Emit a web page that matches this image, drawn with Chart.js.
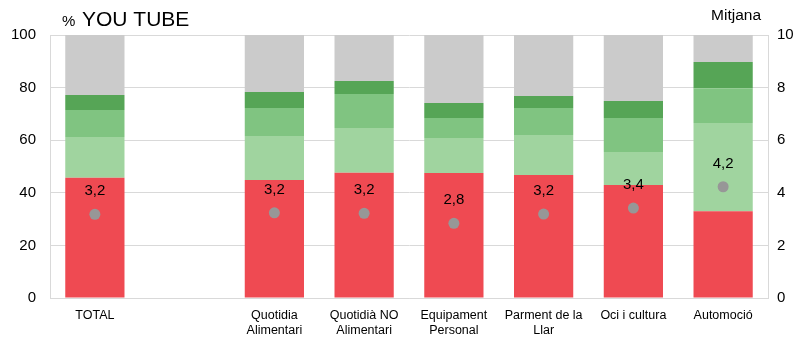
<!DOCTYPE html>
<html>
<head>
<meta charset="utf-8">
<script src="https://cdn.jsdelivr.net/npm/chart.js@4/dist/chart.umd.min.js"></script>
<style>
  html, body { margin: 0; padding: 0; background: #fff; }
  #wrap { width: 802px; height: 338px; position: relative; }
</style>
</head>
<body>
<div id="wrap"><canvas id="chart" width="802" height="338"></canvas></div>
<script>
// categories (second slot is an empty gap, as in the original)
const categories = [
    ['TOTAL'], [''], ['Quotidia', 'Alimentari'], ['Quotidià NO', 'Alimentari'],
    ['Equipament', 'Personal'], ['Parment de la', 'Llar'], ['Oci i cultura'], ['Automoció']
];

// % stacked segments, bottom to top
const redValues = [45.7, null, 44.9, 47.6, 47.5, 46.8, 43.0, 33.0];
const lightGreenValues = [15.5, null, 16.7, 17.0, 13.3, 15.2, 12.5, 33.5];
const midGreenValues = [10.3, null, 10.6, 13.0, 7.6, 10.2, 12.9, 13.3];
const darkGreenValues = [5.7, null, 6.1, 4.9, 5.7, 4.6, 6.5, 9.9];
const greyValues = [22.8, null, 21.7, 17.5, 25.9, 23.2, 25.1, 10.3];

// mean (right axis, 0-10)
const meanValues = [3.18, null, 3.24, 3.22, 2.84, 3.19, 3.42, 4.23];

const leftTicks = [0, 20, 40, 60, 80, 100];
const rightTicks = [0, 2, 4, 6, 8, 10];

const FONT = "'Liberation Sans', Arial, sans-serif";
const gridColor = '#d9d9d9';

Chart.defaults.font.family = FONT;
Chart.defaults.color = '#000';

// title texts and mean labels
const textPlugin = {
    id: 'texts',
    afterDatasetsDraw(chart) {
        const ctx = chart.ctx;
        ctx.save();
        ctx.fillStyle = '#000';
        ctx.textBaseline = 'alphabetic';
        ctx.textAlign = 'left';
        ctx.font = '15px ' + FONT;
        ctx.fillText('%', 62, 26);
        ctx.font = '21px ' + FONT;
        ctx.fillText('YOU TUBE', 82, 26);
        ctx.textAlign = 'right';
        ctx.font = '15.5px ' + FONT;
        ctx.fillText('Mitjana', 761, 20);

        const meta = chart.getDatasetMeta(5);
        ctx.textAlign = 'center';
        ctx.font = '15px ' + FONT;
        meta.data.forEach((pt, i) => {
            const v = meanValues[i];
            if (v == null) return;
            ctx.fillText(v.toFixed(1).replace('.', ','), pt.x, pt.y - 19);
        });
        ctx.restore();
    }
};

const barDefaults = { borderWidth: 0, yAxisID: 'y', stack: 's', order: 2 };

new Chart(document.getElementById('chart').getContext('2d'), {
    type: 'bar',
    data: {
        labels: categories,
        datasets: [
            { ...barDefaults, label: 'red', data: redValues, backgroundColor: '#ef4a52' },
            { ...barDefaults, label: 'light', data: lightGreenValues, backgroundColor: '#a0d49f' },
            { ...barDefaults, label: 'mid', data: midGreenValues, backgroundColor: '#80c481' },
            { ...barDefaults, label: 'dark', data: darkGreenValues, backgroundColor: '#56a556' },
            { ...barDefaults, label: 'grey', data: greyValues, backgroundColor: '#cbcbcb' },
            {
                type: 'line',
                label: 'Mitjana',
                data: meanValues,
                yAxisID: 'y2',
                showLine: false,
                pointRadius: 5.5,
                pointHoverRadius: 5.5,
                pointBackgroundColor: '#979797',
                pointBorderWidth: 0,
                order: 1
            }
        ]
    },
    options: {
        responsive: false,
        animation: false,
        devicePixelRatio: 1,
        layout: { padding: { top: 35, left: 0, right: 0, bottom: 0 } },
        datasets: { bar: { categoryPercentage: 1, barPercentage: 0.66 } },
        plugins: { legend: { display: false }, tooltip: { enabled: false }, title: { display: false } },
        scales: {
            x: {
                stacked: true,
                grid: { display: false },
                border: { display: true, color: gridColor },
                ticks: { font: { size: 12.5, lineHeight: 1.2 }, maxRotation: 0, autoSkip: false, padding: 2 },
                afterFit(scale) { scale.height = 40; }
            },
            y: {
                stacked: true,
                position: 'left',
                min: 0, max: 100,
                afterBuildTicks(scale) { scale.ticks = leftTicks.map(v => ({ value: v })); },
                grid: { color: gridColor, drawTicks: false },
                border: { display: true, color: gridColor },
                ticks: { font: { size: 15 }, padding: 14 },
                afterFit(scale) { scale.width = 50; }
            },
            y2: {
                position: 'right',
                min: 0, max: 10,
                afterBuildTicks(scale) { scale.ticks = rightTicks.map(v => ({ value: v })); },
                grid: { display: false, drawTicks: false },
                border: { display: true, color: gridColor },
                ticks: { font: { size: 15 }, padding: 9 },
                afterFit(scale) { scale.width = 34; }
            }
        }
    },
    plugins: [textPlugin]
});
</script>
</body>
</html>
